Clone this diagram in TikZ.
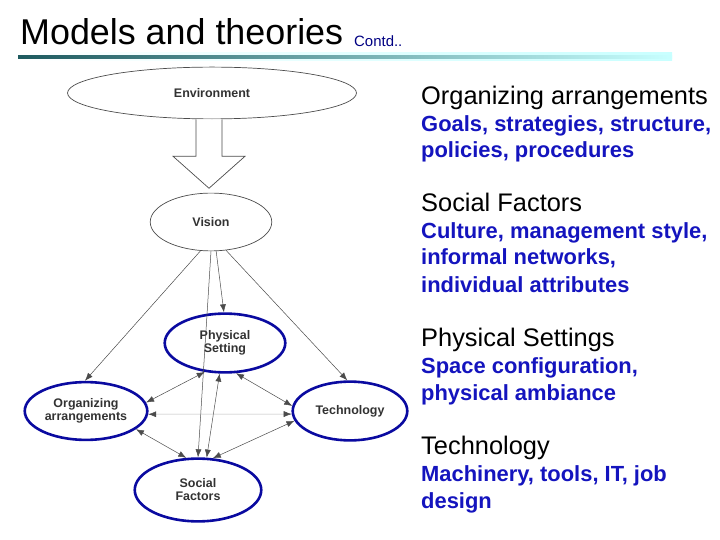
\documentclass[tikz,border=0pt]{standalone}
\usepackage{fontspec}
\setmainfont{Liberation Sans}
\usetikzlibrary{shapes.geometric,arrows.meta}

\definecolor{navyring}{RGB}{10,10,160}
\definecolor{textblue}{RGB}{20,20,190}
\definecolor{contdblue}{RGB}{0,0,130}
\definecolor{rulecyan}{RGB}{200,255,255}
\definecolor{ruleteal}{RGB}{30,90,95}
\definecolor{linkgray}{RGB}{75,75,75}
\definecolor{labelgray}{RGB}{50,50,50}

\tikzset{
  ovalfont/.style={font=\fontsize{12.5}{13}\selectfont\bfseries, text=labelgray, align=center},
  plainoval/.style={ellipse, draw=gray!60!black, line width=0.7bp, inner sep=0pt, ovalfont},
  factoroval/.style={ellipse, draw=navyring, line width=2.6bp, inner sep=0pt, ovalfont},
  tip/.style={Latex[length=8bp,width=6bp,color=linkgray]},
  link/.style={draw=linkgray, line width=0.5bp, -{Latex[length=8bp,width=6bp,color=linkgray]}},
  mutual/.style={draw=linkgray, line width=0.5bp, {Latex[length=8bp,width=6bp,color=linkgray]}-{Latex[length=8bp,width=6bp,color=linkgray]}},
  headline/.style={anchor=base west, inner sep=0pt, font=\fontsize{25.5}{27}\selectfont},
  detailline/.style={anchor=base west, inner sep=0pt, text=textblue, font=\fontsize{22}{24}\selectfont\bfseries},
}

\begin{document}
\begin{tikzpicture}[x=1bp,y=-1bp]
      \useasboundingbox (0,0) rectangle (720,540);
      %%%%%%%%%%%%%%%%%%%%%%%%%%%%%%%%%%%%%%%%%%%%%%%
      \node[anchor=base west, inner sep=0pt, font=\fontsize{36}{38}\selectfont] at (20,45) (title) {Models and theories};
      \node[anchor=base west, inner sep=0pt, text=contdblue, font=\fontsize{15}{16}\selectfont] at (354,47) (contd) {Contd..};
      \shade[left color=white, right color=rulecyan] (18,53) rectangle (672,61);
      \shade[left color=ruleteal, right color=rulecyan] (18,56) rectangle (672,58.5);
      %%%%%%%%%%%%%%%%%%%%%%%%%%%%%%%%%%%%%%%%%%%%%%%
      \node[plainoval, minimum width=290, minimum height=52] at (212,93)  (env)    {Environment};
      \node[plainoval, minimum width=122, minimum height=58] at (211,222) (vision) {Vision};
      \node[factoroval, minimum width=121, minimum height=59] at (225,343) (phys)   {Physical\\Setting};
      \node[factoroval, minimum width=123, minimum height=58] at (86,411)  (org)    {Organizing\\arrangements};
      \node[factoroval, minimum width=115, minimum height=59] at (350,411) (tech)   {Technology};
      \node[factoroval, minimum width=127, minimum height=63] at (198,490) (social) {Social\\Factors};
      %%%%%%%%%%%%%%%%%%%%%%%%%%%%%%%%%%%%%%%%%%%%%%%
      \draw[draw=gray!60!black, line width=0.7bp, fill=white]
            (env.south) ++(-16,0) -- ++(0,37) -- ++(-23,0) -- ++(36,32)
            -- ++(36,-32) -- ++(-23,0) -- ++(0,-37);
      %%%%%%%%%%%%%%%%%%%%%%%%%%%%%%%%%%%%%%%%%%%%%%%
      \draw[link] (vision.250) -- (org.92);
      \draw[link] (vision.270) -- (social.90);
      \draw[link] (vision.280) -- (phys.92);
      \draw[link] (vision.298) -- (tech.95);
      \draw[mutual] (phys.235) -- (org.8);
      \draw[mutual] (phys.260) -- (social.75);
      \draw[mutual] (phys.290) -- (tech.175);
      \draw[mutual, draw=gray!55] (org.357) -- (tech.183);
      \draw[mutual] (org.340) -- (social.110);
      \draw[mutual] (tech.190) -- (social.65);
      %%%%%%%%%%%%%%%%%%%%%%%%%%%%%%%%%%%%%%%%%%%%%%%
      \node[headline]   at (421,105) (h1)  {Organizing arrangements};
      \node[detailline] at (421,132) (d11) {Goals, strategies, structure,};
      \node[detailline] at (421,158) (d12) {policies, procedures};
      %%%%%%%%%%%%%%%%%%%%%%%%%%%%%%%%%%%%%%%%%%%%%%%
      \node[headline]   at (421,212) (h2)  {Social Factors};
      \node[detailline] at (421,239) (d21) {Culture, management style,};
      \node[detailline] at (421,265) (d22) {informal networks,};
      \node[detailline] at (421,292) (d23) {individual attributes};
      %%%%%%%%%%%%%%%%%%%%%%%%%%%%%%%%%%%%%%%%%%%%%%%
      \node[headline]   at (421,346) (h3)  {Physical Settings};
      \node[detailline] at (421,373) (d31) {Space configuration,};
      \node[detailline] at (421,400) (d32) {physical ambiance};
      %%%%%%%%%%%%%%%%%%%%%%%%%%%%%%%%%%%%%%%%%%%%%%%
      \node[headline]   at (421,454) (h4)  {Technology};
      \node[detailline] at (421,481) (d41) {Machinery, tools, IT, job};
      \node[detailline] at (421,508) (d42) {design};
      %%%%%%%%%%%%%%%%%%%%%%%%%%%%%%%%%%%%%%%%%%%%%%%
\end{tikzpicture}
\end{document}
